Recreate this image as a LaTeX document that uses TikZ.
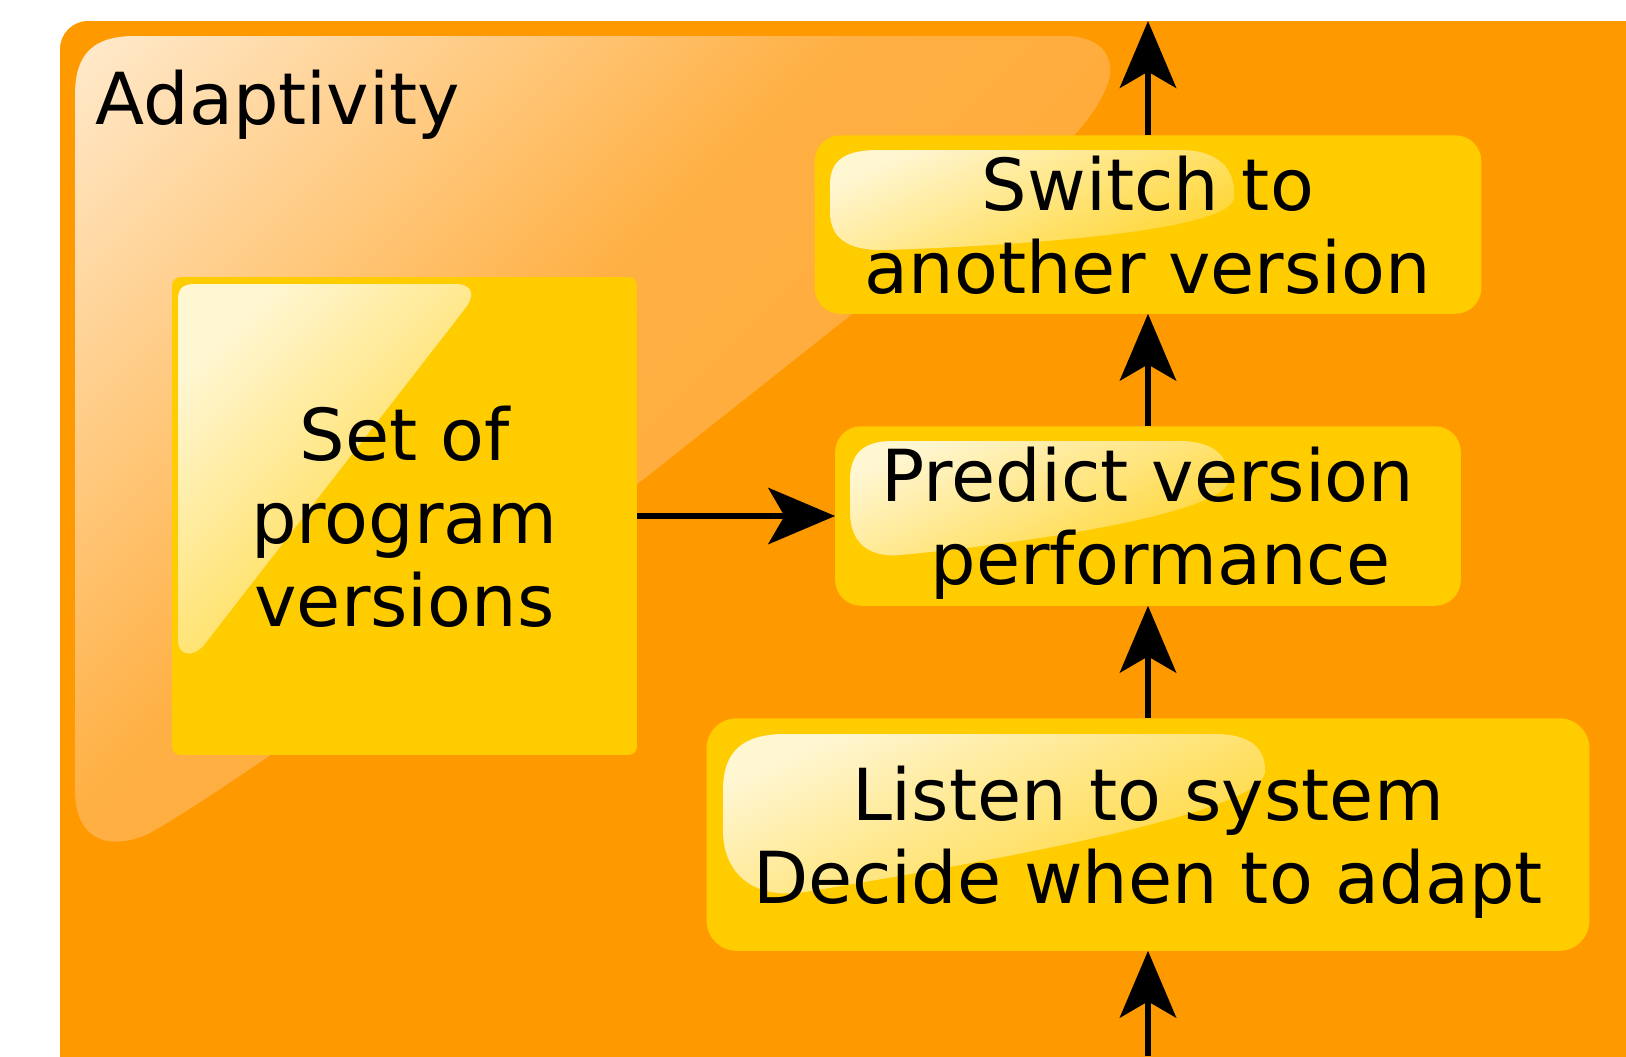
\documentclass[tikz,border=0pt]{standalone}
\usepackage{fontspec}
\setmainfont{DejaVu Sans}
\usetikzlibrary{arrows.meta,backgrounds}
\definecolor{frameorange}{HTML}{FF9900}
\definecolor{boxyellow}{HTML}{FFCC00}
\definecolor{glosstop}{HTML}{FFEBD0}
\definecolor{glossmid}{HTML}{FFC87C}
\definecolor{glossdeep}{HTML}{FFB044}
\definecolor{glossend}{HTML}{FFA22A}
\definecolor{shinetop}{HTML}{FFF6D2}
\definecolor{shineend}{HTML}{FFD633}
\pgfdeclarehorizontalshading{glossfade}{100bp}{color(0bp)=(glosstop); color(14bp)=(glosstop); color(32bp)=(glossmid); color(44bp)=(glossdeep); color(86bp)=(glossend); color(100bp)=(glossend)}
\tikzstyle{stage} = [rectangle, align=center, inner sep=0pt, text depth=0pt, font=\fontsize{20.4}{23.6}\selectfont]
\tikzstyle{flow} = [-{Stealth[length=19pt, width=16pt, inset=4.6pt]}, line width=1.7pt]
\tikzstyle{gloss} = [shading=glossfade, shading angle=-45]
\tikzstyle{shine} = [left color=shinetop, right color=shineend, shading angle=45]
\tikzstyle{shinewide} = [top color=shinetop, bottom color=shineend, shading angle=25]

\begin{document}
\begin{tikzpicture}[x=0.01cm, y=-0.01cm]
\useasboundingbox (0,0) rectangle (1626,1056);

	\node[stage, anchor=base west] (title) at (95,124.5) {Adaptivity};
	\node[stage, minimum width=4.63cm, minimum height=4.76cm] (versions) at (404.5,516) {Set of\\program\\versions};
	\node[stage, minimum width=6.65cm, minimum height=1.77cm] (switch) at (1148,224.5) {Switch to\\another version};
	\node[stage, minimum width=6.24cm, minimum height=1.78cm] (predict) at (1148,516) {Predict version\\\hspace*{0.25cm}performance};
	\node[stage, minimum width=8.81cm, minimum height=2.31cm] (listen) at (1148,834.5) {Listen to system\\Decide when to adapt};

	\begin{scope}[on background layer]
		\begin{scope}
			\clip (0,0) rectangle (1626,1056);
			\fill[frameorange, rounded corners=0.28cm] (60,21) rectangle (1760,1100);
		\end{scope}
		\shade[gloss] (75,95) .. controls (75,55) and (92,36) .. (135,36) -- (1065,36) .. controls (1105,36) and (1118,62) .. (1106,88) .. controls (1098,108) and (1082,128) .. (1062,148) -- (640,482) .. controls (500,590) and (260,770) .. (150,833) .. controls (115,850) and (75,845) .. (75,790) -- cycle;

		\fill[boxyellow, rounded corners=0.08cm] (versions.south west) rectangle (versions.north east);
		\fill[boxyellow, rounded corners=0.26cm] (switch.south west) rectangle (switch.north east);
		\fill[boxyellow, rounded corners=0.26cm] (predict.south west) rectangle (predict.north east);
		\fill[boxyellow, rounded corners=0.3cm] (listen.south west) rectangle (listen.north east);

		\shade[shine] (178,300) .. controls (178,288) and (183,284) .. (195,284) -- (455,284) .. controls (470,284) and (476,292) .. (467,306) -- (204,645) .. controls (193,658) and (178,656) .. (178,640) -- cycle;
		\shade[shinewide] (830,185) .. controls (830,160) and (845,150) .. (878,150) -- (1180,150) .. controls (1222,150) and (1236,172) .. (1234,198) .. controls (1230,232) and (1010,246) .. (885,250) .. controls (848,251) and (830,238) .. (830,212) -- cycle;
		\shade[shinewide] (850,480) .. controls (850,455) and (862,441) .. (892,441) -- (1180,441) .. controls (1215,441) and (1230,458) .. (1229,480) .. controls (1226,515) and (1010,545) .. (900,555) .. controls (866,558) and (850,540) .. (850,512) -- cycle;
		\shade[shinewide] (723,790) .. controls (723,752) and (742,734) .. (785,734) -- (1215,734) .. controls (1250,734) and (1266,748) .. (1265,772) .. controls (1262,812) and (1010,858) .. (805,892) .. controls (755,900) and (723,875) .. (723,830) -- cycle;
	\end{scope}

	\coordinate (inflow) at (1148,1056);
	\coordinate (outflow) at (1148,21);
	\draw[flow] (versions.east) -- (predict.west);
	\draw[flow] (inflow) -- (listen.south);
	\draw[flow] (listen.north) -- (predict.south);
	\draw[flow] (predict.north) -- (switch.south);
	\draw[flow] (switch.north) -- (outflow);

\end{tikzpicture}
\end{document}
